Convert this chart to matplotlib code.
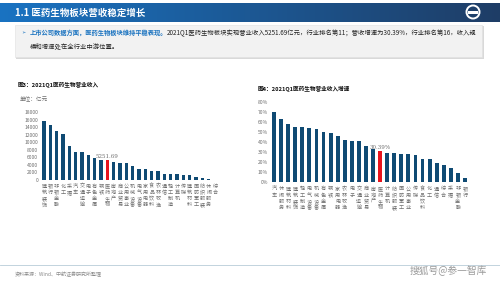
import numpy as np
import matplotlib
matplotlib.use("Agg")
from matplotlib import pyplot as plt
from matplotlib import transforms
from matplotlib.patches import Rectangle, Circle

plt.rcParams['font.family'] = ['Noto Sans CJK SC', 'DejaVu Sans']

# left chart: 2021Q1 revenue (100m yuan)
rev_names = ['建筑装饰', '银行', '非银金融', '化工', '采掘', '汽车', '交通运输', '电子',
             '有色金属', '钢铁', '医药生物', '房地产', '商业贸易', '公用事业', '机械设备',
             '电气设备', '家用电器', '食品饮料', '农林牧渔', '通信', '轻工制造', '计算机',
             '传媒', '建筑材料', '国防军工', '纺织服装', '休闲服务', '综合']
rev_values = [15800, 14700, 12900, 12100, 9100, 7500, 7400, 6700, 5900, 5300, 5251.69,
              4700, 4600, 4450, 3700, 3000, 2900, 2400, 2350, 1700, 1600, 1550, 1400,
              1300, 700, 550, 200, 100]

# right chart: 2021Q1 revenue growth (%)
gr_names = ['汽车', '休闲服务', '建筑材料', '建筑装饰', '轻工制造', '电气设备', '机械设备',
            '有色金属', '钢铁', '家用电器', '农林牧渔', '电子', '交通运输', '商业贸易',
            '房地产', '医药生物', '计算机', '纺织服装', '国防军工', '公用事业', '传媒',
            '食品饮料', '化工', '通信', '综合', '采掘', '非银金融', '银行']
gr_values = [70.0, 62.3, 57.7, 54.5, 54.3, 53.7, 52.7, 49.7, 49.0, 45.7, 41.7, 40.7, 40.3,
             35.7, 32.7, 30.39, 29.0, 28.3, 28.0, 27.7, 26.3, 22.7, 22.3, 19.0, 16.7, 14.0,
             8.7, 3.7]

W, H = 500, 281
NAVY = '#0f4a73'
RED = '#e8141c'
GREY = '#6e6e6e'

fig = plt.figure(figsize=(W / 100, H / 100), dpi=100)
bg = fig.add_axes([0, 0, 1, 1])
bg.set_xlim(0, W)
bg.set_ylim(H, 0)
bg.axis('off')

# header band with gradient
grad = np.linspace(0, 1, 256).reshape(1, -1)
c0 = np.array([0.10, 0.45, 0.76])
c1 = np.array([0.12, 0.24, 0.40])
img = (c0[None, None, :] * (1 - grad[..., None]) + c1[None, None, :] * grad[..., None])
bg.imshow(img, extent=[0, W, 22, 3], aspect='auto', zorder=1)
bg.text(15, 13, '1.1 医药生物板块营收稳定增长', color='white', fontsize=6.8,
        fontweight='bold', va='center', ha='left', zorder=3)
bg.add_patch(Circle((473, 12), 6.5, fill=False, ec='white', lw=1.4, zorder=3))
bg.add_patch(Rectangle((468, 11), 10, 2.5, fc='white', ec='none', zorder=3))

# summary box
bg.add_patch(Rectangle((16, 26), 468, 33, fc='#d9d9d9', ec='none', zorder=1))
bg.add_patch(Rectangle((15, 25), 467, 32, fc='#f2f2f2', ec='#e0e0e0', lw=0.4, zorder=2))
bg.text(21, 33, '➢', color='#1a73c0', fontsize=3.6, va='center', ha='left', zorder=3,
        family=['DejaVu Sans'])
bg.text(30, 33, '上市公司数据方面，医药生物板块维持平稳表现。', color='#1a73c0',
        fontsize=4.5, fontweight='bold', va='center', ha='left', zorder=3)
bg.text(167, 33, '2021Q1医药生物板块实现营业收入5251.69亿元，行业排名第11；营收增速为30.39%，行业排名第16，收入规',
        color='#222222', fontsize=4.55, va='center', ha='left', zorder=3)
bg.text(30, 47, '模和增速处在全行业中游位置。', color='#222222', fontsize=4.55,
        va='center', ha='left', zorder=3)

# chart titles
bg.text(18, 85, '图3：2021Q1医药生物营业收入', color='#111111', fontsize=4.1,
        fontweight='bold', va='center', ha='left')
bg.text(258, 89, '图4：2021Q1医药生物营业收入增速', color='#111111', fontsize=4.1,
        fontweight='bold', va='center', ha='left')
bg.text(20, 99, '单位：亿元', color=GREY, fontsize=4.1, va='center', ha='left')

# footer
bg.plot([0, W], [265, 265], color='#b8ccd8', lw=0.6)
bg.text(15, 274, '资料来源：Wind、中航证券研究所整理', color='#8a8a8a', fontsize=3.6,
        va='center', ha='left')
bg.text(487, 271, '搜狐号@参一智库', color='#9a9a9a', fontsize=7, va='center', ha='right')


def px_axes(x0, x1, ytop, ybot):
    return fig.add_axes([x0 / W, (H - ybot) / H, (x1 - x0) / W, (ybot - ytop) / H])


def style(ax, names, row0, step):
    for s in ax.spines.values():
        s.set_visible(False)
    ax.tick_params(length=0, labelsize=3.6, labelcolor=GREY, pad=2)
    ax.set_xticks([])
    ax.patch.set_alpha(0)
    tr = transforms.blended_transform_factory(ax.transData, bg.transData)
    for i, n in enumerate(names):
        for k, ch in enumerate(n):
            bg.text(i, row0 + k * step, ch, transform=tr, ha='center', va='center',
                    fontsize=3.7, color=GREY)


# left chart
ax1 = px_axes(40.8, 218.2, 112.3, 180)
x1 = np.arange(len(rev_names))
c1s = [RED if n == '医药生物' else NAVY for n in rev_names]
ax1.bar(x1, rev_values, width=0.55, color=c1s)
ax1.set_ylim(0, 18000)
ax1.set_yticks(np.arange(0, 18001, 2000))
ax1.set_xlim(-0.5, len(rev_names) - 0.5)
style(ax1, rev_names, 186, 6.3)
i1 = rev_names.index('医药生物')
ax1.text(i1, rev_values[i1] + 400, '5251.69', ha='center', va='bottom', fontsize=4.0,
         color=GREY, family=['DejaVu Serif'])

# right chart
ax2 = px_axes(270.5, 468.5, 101.7, 181.7)
x2 = np.arange(len(gr_names))
c2s = [RED if n == '医药生物' else NAVY for n in gr_names]
ax2.bar(x2, gr_values, width=0.55, color=c2s)
ax2.set_ylim(0, 80)
ax2.set_yticks(np.arange(0, 81, 10))
ax2.set_yticklabels(['%d%%' % v for v in np.arange(0, 81, 10)])
ax2.set_xlim(-0.5, len(gr_names) - 0.5)
style(ax2, gr_names, 189, 6.2)
i2 = gr_names.index('医药生物')
ax2.text(i2, gr_values[i2] + 1.5, '30.39%', ha='center', va='bottom', fontsize=4.0,
         color=GREY, family=['DejaVu Serif'])

fig.savefig('out.png', dpi=100)
